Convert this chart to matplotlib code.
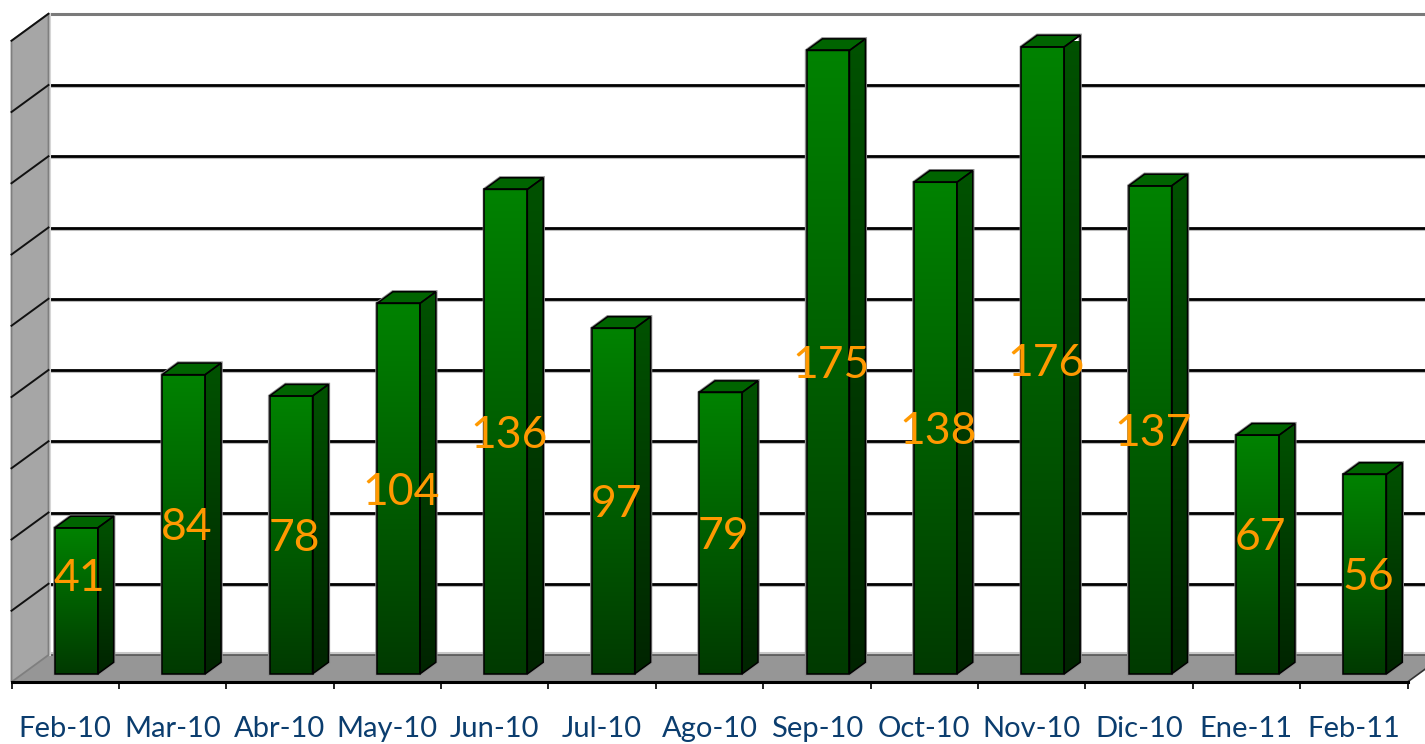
import numpy as np
import matplotlib
matplotlib.use('Agg')
import matplotlib.pyplot as plt
from matplotlib.patches import Polygon

# ---------------- data ----------------
categories = ['Feb-10', 'Mar-10', 'Abr-10', 'May-10', 'Jun-10', 'Jul-10', 'Ago-10',
              'Sep-10', 'Oct-10', 'Nov-10', 'Dic-10', 'Ene-11', 'Feb-11']
values = [41, 84, 78, 104, 136, 97, 79, 175, 138, 176, 137, 67, 56]
y_max = 180
y_step = 20

# ---------------- styling / layout ----------------
W, H, DPI = 1425, 744, 100
FONT = ['Lato', 'DejaVu Sans']
LABEL_COLOR = '#0B3D6E'
VALUE_COLOR = '#FF9900'
DEPTH_PX = (37.0, 27.0)      # oblique depth of the floor/wall, in pixels
BAR_FRONT, BAR_BACK = 0.30, 0.73
BAR_W = 0.40
label_nudge_px = {0: 26, 11: 21}   # Excel-like label placement tweaks

fig = plt.figure(figsize=(W / DPI, H / DPI), dpi=DPI)
fig.patch.set_facecolor('white')
left_px, right_px = 11.5, 1407.5
bottom_px, height_px = 62.0, 641.25
ax = fig.add_axes([left_px / W, bottom_px / H, (right_px - left_px) / W, height_px / H])
n = len(categories)
ax.set_xlim(-0.5, n - 0.5)
ax.set_ylim(0, y_max)
ax.set_autoscale_on(False)
ax.patch.set_visible(False)

T = ax.transData
p0 = T.transform((0, 0))
p1 = T.transform((1, 1))
sx, sy = p1 - p0
ddx, ddy = DEPTH_PX[0] / sx, DEPTH_PX[1] / sy


def P(x, v, d):
    return (x + d * ddx, v + d * ddy)


xl, xr = -0.5, n - 0.5
xfar = xr + 1.0

# floor
floor = Polygon([P(xl, 0, 0), P(xr, 0, 0), P(xr, 0, 1), P(xl, 0, 1)],
                closed=True, facecolor='#969696', edgecolor='none', zorder=1, clip_on=False)
ax.add_patch(floor)
# floor back edge
ax.plot([P(xl, 0, 1)[0], P(xfar, 0, 1)[0]], [P(xl, 0, 1)[1] + 2.5 / sy] * 2,
        color='#C8C8C8', lw=2.2, zorder=1.2, clip_on=False, solid_capstyle='butt')
ax.plot([P(xl, 0, 1)[0], P(xr, 0, 1)[0]], [P(xl, 0, 1)[1]] * 2,
        color='#555555', lw=1.2, zorder=1.3, clip_on=False, solid_capstyle='butt')
# right slanted floor edge
ax.plot([P(xr, 0, 0)[0], P(xr, 0, 1)[0]], [P(xr, 0, 0)[1], P(xr, 0, 1)[1]],
        color='#333333', lw=1.2, zorder=1.3, clip_on=False)

# gridlines on back wall and left wall
for g in range(y_step, y_max, y_step):
    a = P(xl, g, 1)
    ax.plot([a[0], P(xfar, g, 1)[0]], [a[1] - 2.0 / sy] * 2, color='#BBBBBB', lw=1.5,
            zorder=1.1, clip_on=False, solid_capstyle='butt')
    ax.plot([a[0], P(xfar, g, 1)[0]], [a[1]] * 2, color='black', lw=2.0,
            zorder=1.2, clip_on=False, solid_capstyle='butt')
# top border of back wall
a = P(xl, y_max, 1)
ax.plot([a[0], P(xfar, y_max, 1)[0]], [a[1]] * 2, color='#7A7A7A', lw=2.2,
        zorder=1.2, clip_on=False, solid_capstyle='butt')

# left wall
wall = Polygon([P(xl, 0, 0), P(xl, 0, 1), P(xl, y_max, 1), P(xl, y_max, 0)], closed=True,
               facecolor='#A6A6A6', edgecolor='#7F7F7F', lw=1.3, zorder=1.5, clip_on=False)
ax.add_patch(wall)
ax.plot([P(xl, 0, 1)[0] + 1.5 / sx] * 2, [P(xl, 0, 1)[1], P(xl, y_max, 1)[1]],
        color='#D6D6D6', lw=1.5, zorder=1.45, clip_on=False)
for g in range(y_step, y_max + 1, y_step):
    a, b = P(xl, g, 0), P(xl, g, 1)
    ax.plot([a[0], b[0]], [a[1], b[1]], color='#111111', lw=1.4, zorder=1.6, clip_on=False)

# bars
N = 128
t = np.linspace(0, 1, N)[:, None]


def grad(top, bot):
    top = np.array(matplotlib.colors.to_rgb(top))
    bot = np.array(matplotlib.colors.to_rgb(bot))
    return (top[None, None, :] * (1 - t[:, :, None]) + bot[None, None, :] * t[:, :, None])


front_grad = grad('#008200', '#003A00')
side_grad = grad('#005200', '#002400')

for i, v in enumerate(values):
    x0, x1 = i - BAR_W / 2, i + BAR_W / 2
    f0 = P(x0, 0, BAR_FRONT)
    f1 = P(x1, v, BAR_FRONT)
    # front face
    ax.imshow(front_grad, extent=(f0[0], f1[0], f0[1], f1[1]), aspect='auto',
              interpolation='bilinear', zorder=3, clip_on=False, origin='upper')
    # side face
    side_pts = [P(x1, 0, BAR_FRONT), P(x1, 0, BAR_BACK), P(x1, v, BAR_BACK), P(x1, v, BAR_FRONT)]
    side_clip = Polygon(side_pts, closed=True, transform=ax.transData, facecolor='none',
                        edgecolor='none')
    im = ax.imshow(side_grad, extent=(side_pts[0][0], side_pts[1][0], side_pts[0][1], side_pts[2][1]),
                   aspect='auto', interpolation='bilinear', zorder=3, origin='upper')
    im.set_clip_path(side_clip)
    # top face
    top_pts = [P(x0, v, BAR_FRONT), P(x1, v, BAR_FRONT), P(x1, v, BAR_BACK), P(x0, v, BAR_BACK)]
    ax.add_patch(Polygon(top_pts, closed=True, facecolor='#006400', edgecolor='none',
                         zorder=3, clip_on=False))
    # outlines
    front_pts = [P(x0, 0, BAR_FRONT), P(x1, 0, BAR_FRONT), P(x1, v, BAR_FRONT), P(x0, v, BAR_FRONT)]
    outline = [P(x0, 0, BAR_FRONT), P(x1, 0, BAR_FRONT), P(x1, 0, BAR_BACK), P(x1, v, BAR_BACK),
               P(x0, v, BAR_BACK), P(x0, v, BAR_FRONT)]
    ax.add_patch(Polygon(outline, closed=True, facecolor='none', edgecolor='#8C8C8C',
                         lw=2.4, zorder=2.9, clip_on=False))
    for pts in (front_pts, side_pts, top_pts):
        ax.add_patch(Polygon(pts, closed=True, facecolor='none', edgecolor='black',
                             lw=1.1, zorder=3.5, clip_on=False))
    # value label
    c = P(i, v / 2, BAR_FRONT)
    ax.annotate(str(v), xy=c, xytext=(3, -16 + label_nudge_px.get(i, 0)),
                textcoords='offset pixels', ha='center', va='baseline', fontsize=32,
                color=VALUE_COLOR, family=FONT, zorder=10, annotation_clip=False)

# category labels
for i, cat in enumerate(categories):
    ax.annotate(cat, xy=(i, 0), xytext=(0, -55), textcoords='offset pixels', ha='center',
                va='baseline', fontsize=21, color=LABEL_COLOR, family=FONT,
                annotation_clip=False)

# axis
ax.set_xticks(np.arange(-0.5, n, 1.0))
ax.tick_params(axis='x', direction='out', length=5, width=1.2, color='black', labelbottom=False)
ax.set_yticks([])
for s in ('top', 'left', 'right'):
    ax.spines[s].set_visible(False)
ax.spines['bottom'].set_linewidth(2.2)
ax.spines['bottom'].set_color('black')
ax.spines['bottom'].set_zorder(2.5)

fig.savefig('out.png', dpi=DPI, facecolor='white')
